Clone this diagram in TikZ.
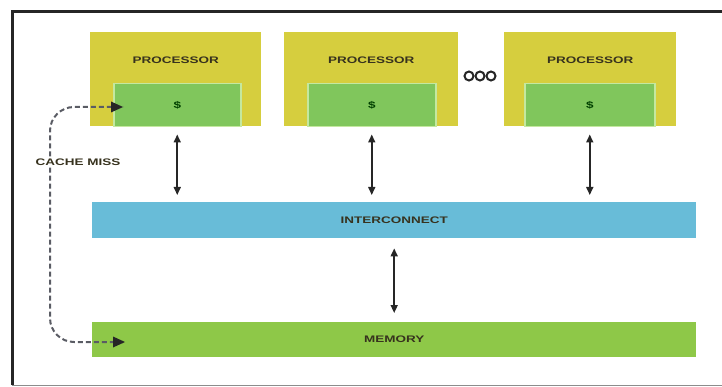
\documentclass[tikz,border=0pt]{standalone}
\usepackage{fontspec}
\setmainfont{Liberation Sans}
\newfontfamily\labfont[FakeStretch=1.42]{Liberation Sans}
\usetikzlibrary{arrows.meta,calc}
\definecolor{procY}{RGB}{214,206,62}
\definecolor{cacheG}{RGB}{128,198,92}
\definecolor{cacheB}{RGB}{196,232,160}
\definecolor{icB}{RGB}{104,188,216}
\definecolor{memG}{RGB}{142,200,72}
\definecolor{txtD}{RGB}{55,50,30}
\definecolor{dashC}{RGB}{90,92,100}
\tikzset{
  proc/.style={fill=procY, draw=none, minimum width=171pt, minimum height=94pt, anchor=north west, inner sep=0pt},
  cachebox/.style={fill=cacheG, draw=cacheB, line width=1.5pt, minimum width=127pt, minimum height=43pt, anchor=north west, inner sep=0pt},
  bar/.style={draw=none, minimum width=604pt, anchor=north west, inner sep=0pt},
  lab/.style={font=\labfont\bfseries\fontsize{9.5}{10}\selectfont, text=txtD, inner sep=1pt},
  dbl/.style={{Triangle[length=8pt,width=7pt]}-{Triangle[length=8pt,width=7pt]}, line width=1.6pt, black!85},
  miss/.style={dashC, line width=2pt, dash pattern=on 5pt off 3pt, rounded corners=24pt},
  dotc/.style={circle, draw=black!85, line width=2pt, minimum size=9pt, inner sep=0pt, fill=white}
}
\begin{document}
\begin{tikzpicture}[x=1pt,y=-1pt]
\useasboundingbox (0,0) rectangle (722,387);
% frame
\draw[black!85, line width=3pt] (12,385) -- (12,12) -- (722,12);
\draw[black!45, line width=1pt] (12,385.5) -- (722,385.5);

% processors
\node[proc] (p1) at (90,32) {};
\node[proc, minimum width=174pt] (p2) at (284,32) {};
\node[proc, minimum width=172pt] (p3) at (504,32) {};
\node[cachebox] (c1) at (113,83) {};
\node[cachebox, minimum width=128pt] (c2) at (307,83) {};
\node[cachebox, minimum width=130pt] (c3) at (524,83) {};
\foreach \i in {1,2,3}{
  \node[lab] (pl\i) at ($(p\i.north)+(0,28)$) {PROCESSOR};
  \node[lab, text=black!75!green] (cl\i) at (c\i.center) {\$};
}
% ellipsis
\node[dotc] (e1) at (469,76) {};
\node[dotc] (e2) at (480,76) {};
\node[dotc] (e3) at (491,76) {};

% interconnect and memory
\node[bar, fill=icB, minimum height=36pt] (ic) at (92,202) {};
\node[lab] (icl) at (ic.center) {INTERCONNECT};
\node[bar, fill=memG, minimum height=35pt] (mem) at (92,322) {};
\node[lab] (meml) at (mem.center) {MEMORY};

% arrows
\foreach \i in {1,2,3}{
  \draw[dbl, shorten <=7pt, shorten >=7pt] (c\i.south) -- (c\i.south |- ic.north);
}
\draw[dbl, shorten <=10pt, shorten >=9pt] (ic.south) -- (mem.north);

% cache miss
\coordinate (ct) at (123,107);
\coordinate (mt) at (125,342);
\node[lab, fill=white, inner sep=2pt] (cm) at (78,162) {CACHE MISS};
\draw[miss] (cm.north -| 50,0) -- (50,107) -- (ct);
\draw[miss] (cm.south -| 50,0) -- (50,342) -- (mt);
\fill[black!85] (ct) -- ++(-12,-5.5) -- ++(0,11) -- cycle;
\fill[black!85] (mt) -- ++(-12,-5.5) -- ++(0,11) -- cycle;
\end{tikzpicture}
\end{document}
